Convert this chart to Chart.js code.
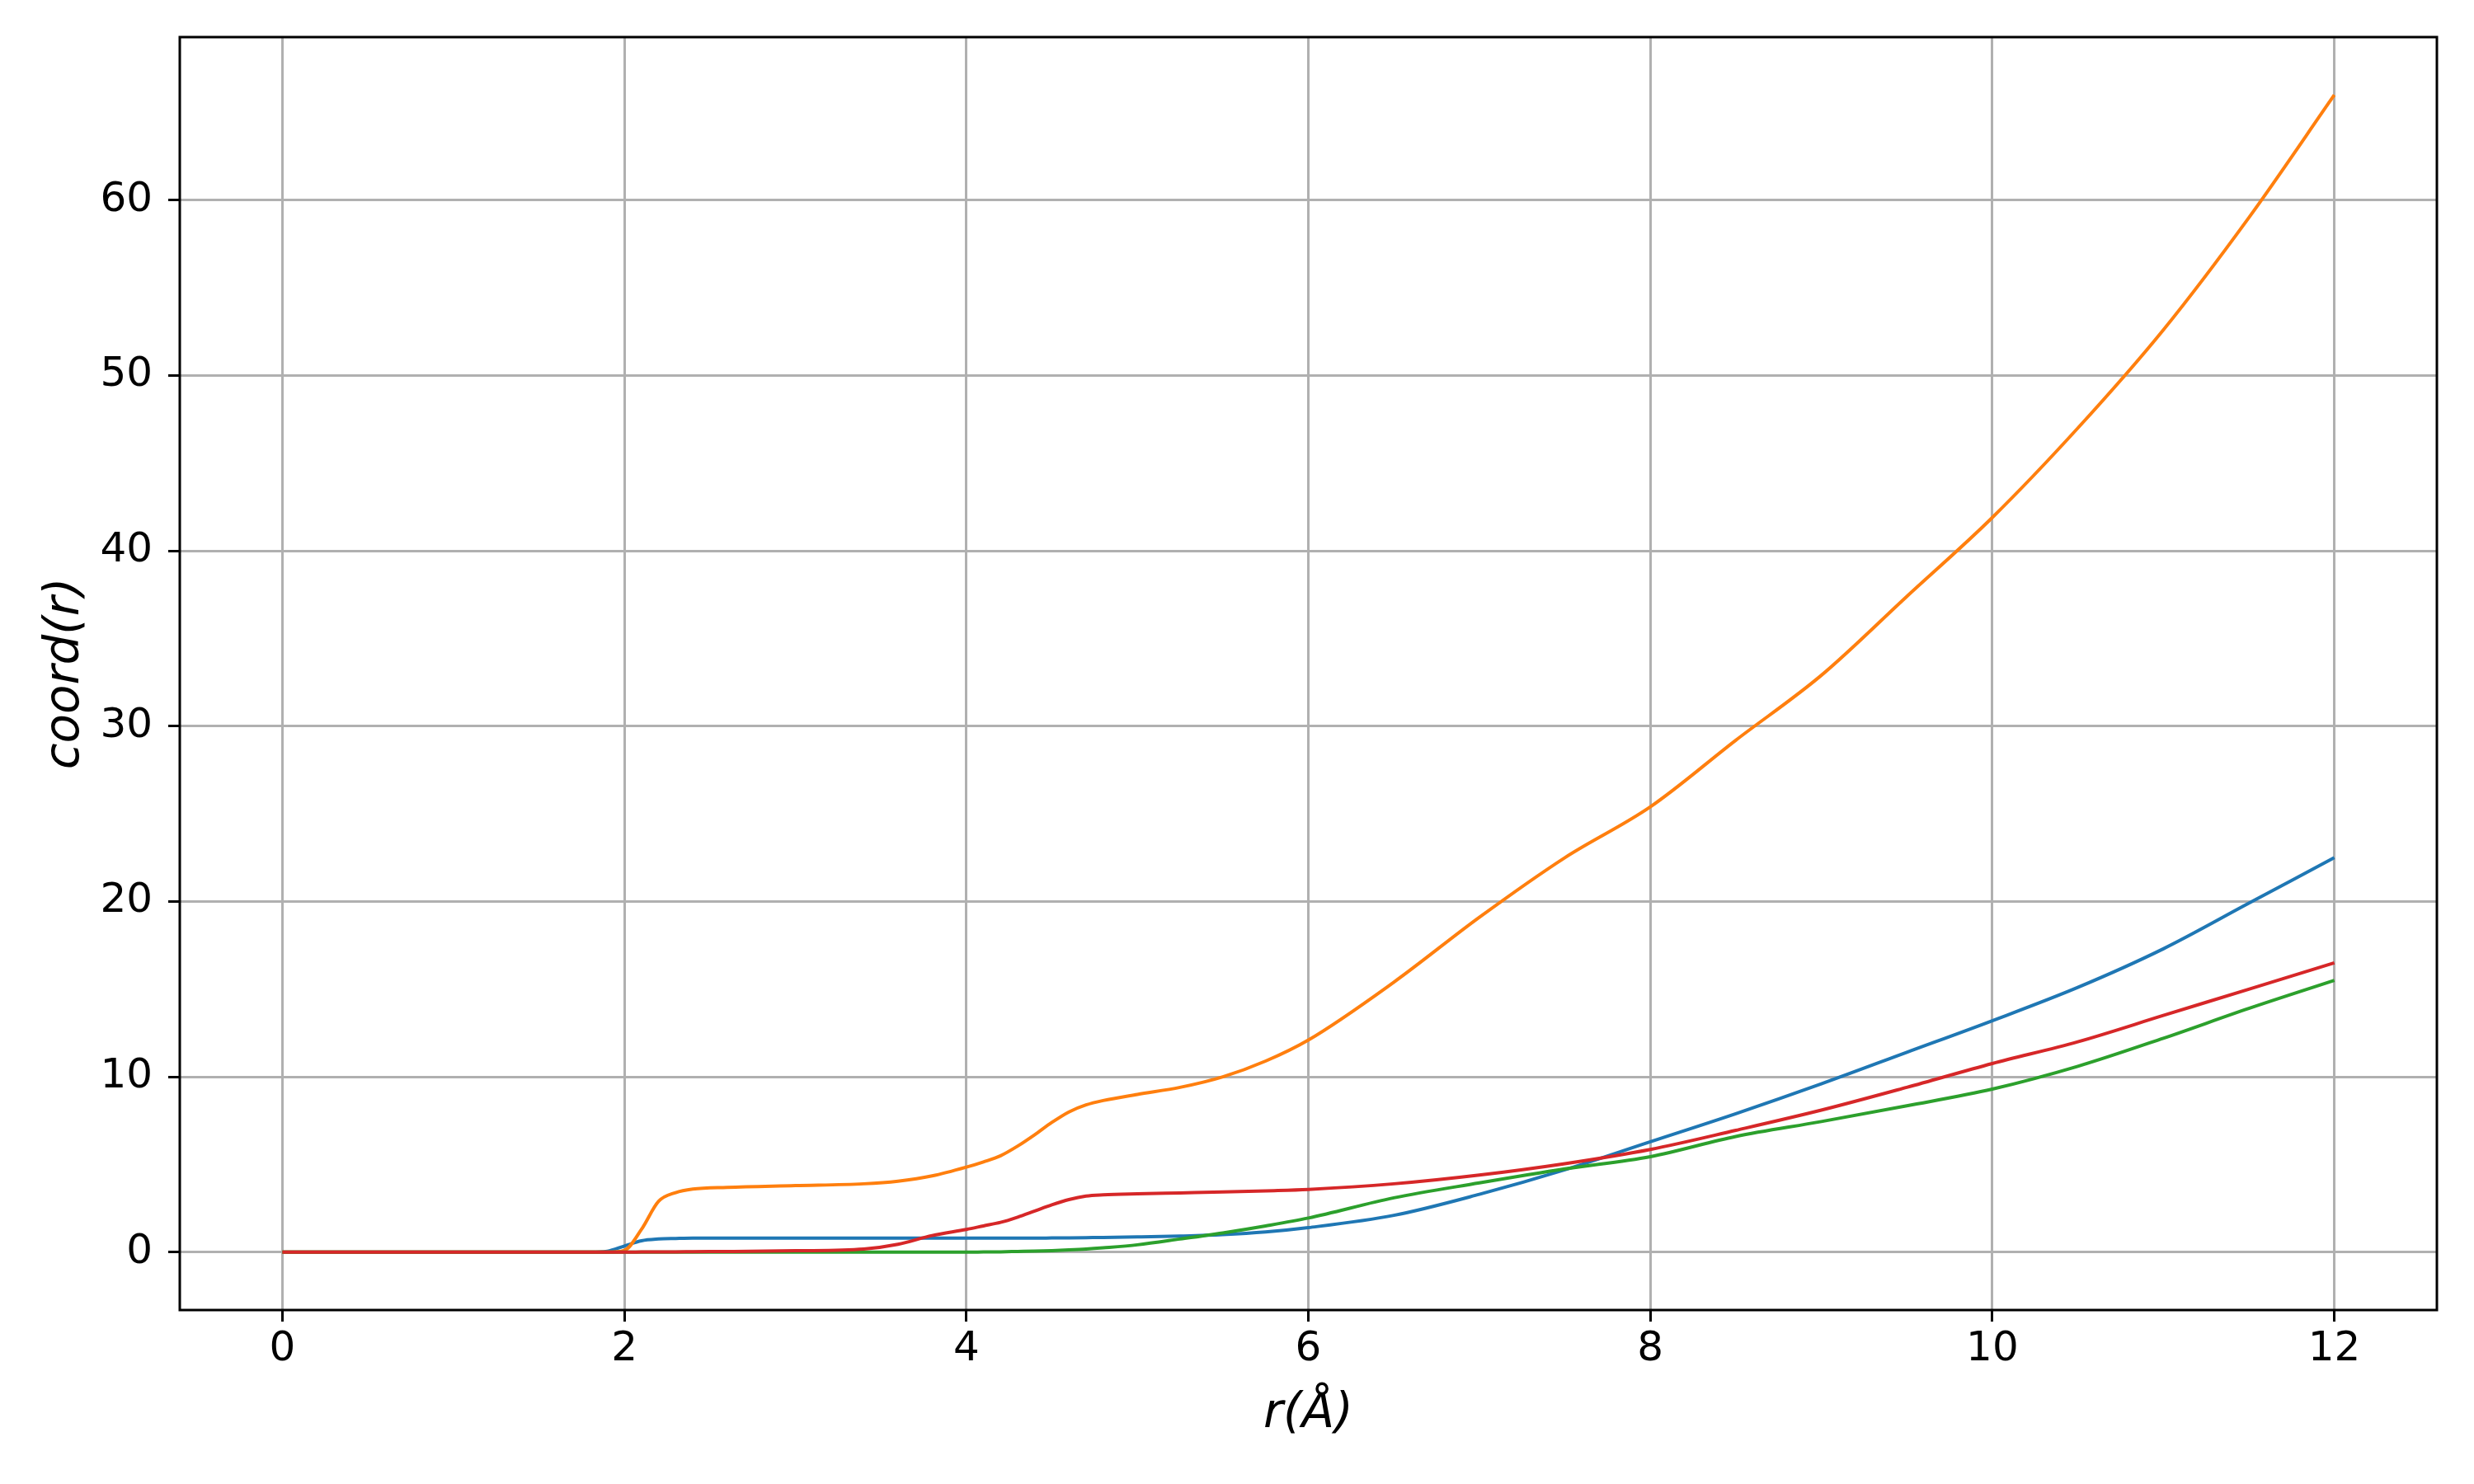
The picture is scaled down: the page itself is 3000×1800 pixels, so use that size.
<!DOCTYPE html>
<html>
<head>
<meta charset="utf-8">
<script src="https://cdn.jsdelivr.net/npm/chart.js@4/dist/chart.umd.min.js"></script>
<style>
  html, body { margin: 0; padding: 0; background: #fff; }
  canvas { display: block; }
</style>
</head>
<body>
<canvas id="myChart" width="3000" height="1800"></canvas>
<script>
// r values (Å) shared by all four curves
const rValues = [0, 1.8, 1.9, 2.0, 2.1, 2.2, 2.3, 2.4, 2.6, 3.0, 3.4, 3.6, 3.8, 4.0, 4.1, 4.2, 4.3, 4.4, 4.5, 4.6,
    4.7, 4.8, 5.0, 5.25, 5.5, 5.75, 6.0, 6.5, 7.0, 7.5, 8.0, 8.5, 9.0, 9.5, 10.0, 10.5, 11.0, 11.5, 12.0];

const blue = [0, 0, 0.05, 0.35, 0.65, 0.75, 0.78, 0.8, 0.8, 0.8, 0.8, 0.8, 0.8, 0.8, 0.8, 0.8, 0.8, 0.8, 0.81, 0.82,
    0.83, 0.84, 0.87, 0.92, 1.0, 1.15, 1.4, 2.1, 3.3, 4.7, 6.3, 7.9, 9.6, 11.4, 13.2, 15.1, 17.3, 19.9, 22.5];
const orange = [0, 0, 0, 0.1, 1.3, 2.9, 3.4, 3.6, 3.7, 3.8, 3.9, 4.05, 4.35, 4.85, 5.15, 5.5, 6.05, 6.7, 7.4, 8.0,
    8.4, 8.65, 9.0, 9.4, 10.0, 10.9, 12.1, 15.4, 19.1, 22.5, 25.4, 29.2, 32.9, 37.4, 41.9, 47.0, 52.6, 59.0, 66.0];
const green = [0, 0, 0, 0, 0, 0, 0, 0, 0, 0, 0, 0, 0, 0, 0.01, 0.02, 0.04, 0.06, 0.09, 0.13,
    0.18, 0.25, 0.42, 0.75, 1.1, 1.5, 1.95, 3.1, 3.95, 4.75, 5.45, 6.6, 7.45, 8.35, 9.3, 10.6, 12.2, 13.9, 15.5];
const red = [0, 0, 0, 0, 0.01, 0.02, 0.02, 0.03, 0.04, 0.08, 0.18, 0.45, 0.95, 1.3, 1.5, 1.7, 2.0, 2.35, 2.7, 3.0,
    3.2, 3.27, 3.33, 3.38, 3.43, 3.5, 3.58, 3.9, 4.4, 5.05, 5.86, 6.95, 8.1, 9.4, 10.76, 12.0, 13.5, 15.0, 16.5];

const xTicks = [0, 2, 4, 6, 8, 10, 12];
const yTicks = [0, 10, 20, 30, 40, 50, 60];

const FONT = 'DejaVu Sans';

function serie(values, color) {
    return {
        data: rValues.map((r, i) => ({ x: r, y: values[i] })),
        borderColor: color,
        borderWidth: 4,
        pointRadius: 0,
        fill: false,
        cubicInterpolationMode: 'monotone'
    };
}

// black frame round the plot area, like matplotlib spines
const frame = {
    id: 'frame',
    afterDatasetsDraw(chart) {
        const a = chart.chartArea;
        const ctx = chart.ctx;
        ctx.save();
        ctx.strokeStyle = '#000';
        ctx.lineWidth = 3;
        ctx.strokeRect(a.left, a.top, a.right - a.left, a.bottom - a.top);
        ctx.restore();
    }
};

const config = {
    type: 'line',
    data: {
        // chart.js paints the first dataset last, so red ends up on top
        datasets: [
            serie(red, '#d62728'),
            serie(green, '#2ca02c'),
            serie(orange, '#ff7f0e'),
            serie(blue, '#1f77b4')
        ]
    },
    options: {
        responsive: false,
        animation: false,
        layout: { padding: { top: 45, right: 45, left: 0, bottom: 0 } },
        plugins: { legend: { display: false }, tooltip: { enabled: false } },
        scales: {
            x: {
                type: 'linear',
                min: -0.6,
                max: 12.6,
                afterBuildTicks: s => { s.ticks = xTicks.map(v => ({ value: v })); },
                afterFit: s => { s.height = 211; },
                grid: { color: '#b0b0b0', lineWidth: 3, tickLength: 14, tickColor: '#000', tickWidth: 3 },
                border: { display: false },
                ticks: { color: '#000', font: { family: FONT, size: 50 }, padding: 4, maxRotation: 0 },
                title: {
                    display: true,
                    text: 'r(Å)',
                    color: '#000',
                    font: { family: FONT, size: 58, style: 'italic', lineHeight: 1 },
                    padding: { top: 0, bottom: 55 }
                }
            },
            y: {
                type: 'linear',
                min: -3.3,
                max: 69.3,
                afterBuildTicks: s => { s.ticks = yTicks.map(v => ({ value: v })); },
                afterFit: s => { s.width = 218; },
                grid: { color: '#b0b0b0', lineWidth: 3, tickLength: 14, tickColor: '#000', tickWidth: 3 },
                border: { display: false },
                // small lineHeight keeps the label padding from pushing the plot top down
                ticks: { color: '#000', font: { family: FONT, size: 50, lineHeight: 0.5 }, padding: 19 },
                title: {
                    display: true,
                    text: 'coord(r)',
                    color: '#000',
                    font: { family: FONT, size: 58, style: 'italic', lineHeight: 1 },
                    padding: { top: 51, bottom: 0 }
                }
            }
        }
    },
    plugins: [frame]
};

const myChart = new Chart(document.getElementById('myChart'), config);
</script>
</body>
</html>
